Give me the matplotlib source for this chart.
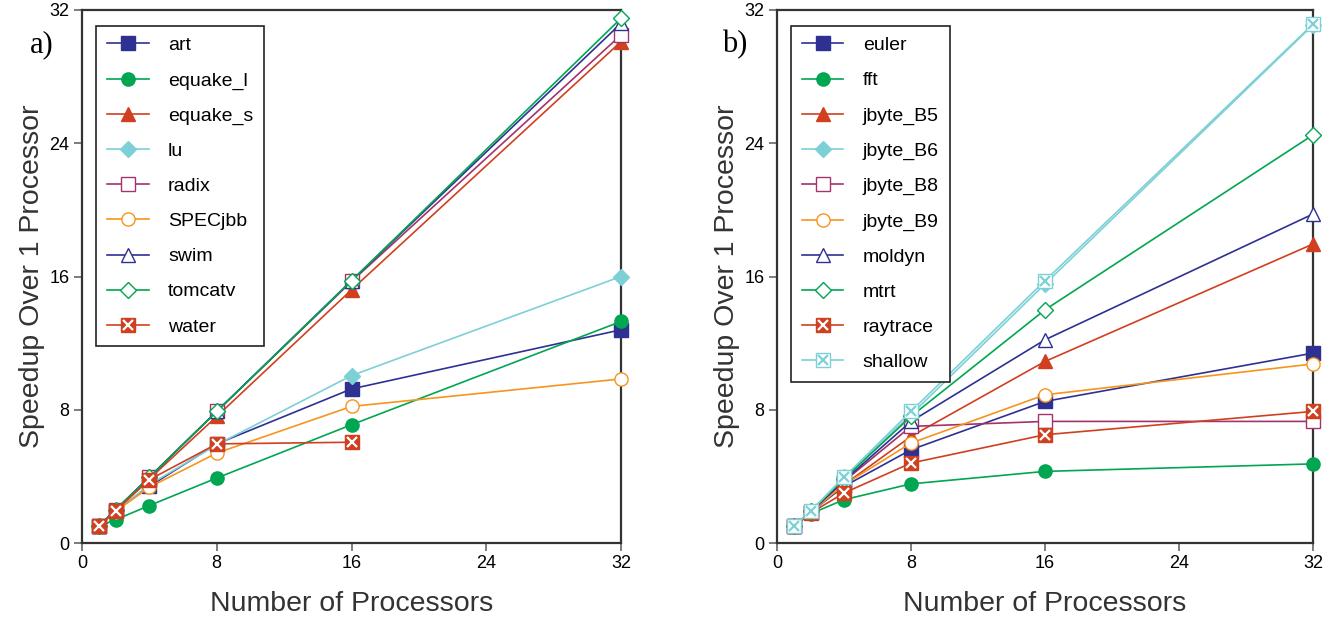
import matplotlib
matplotlib.use("Agg")
import matplotlib.pyplot as plt

plt.rcParams['font.family'] = ['Liberation Sans', 'DejaVu Sans']

procs = [1, 2, 4, 8, 16, 32]

# panel a)
art = [1, 1.95, 3.4, 5.95, 9.25, 12.8]
equake_l = [1, 1.4, 2.25, 3.9, 7.1, 13.3]
equake_s = [1, 1.95, 3.85, 7.6, 15.2, 30.1]
lu = [1, 1.9, 3.5, 5.9, 10.05, 16.0]
radix = [1, 2.0, 3.95, 7.9, 15.7, 30.5]
specjbb = [1, 1.9, 3.35, 5.4, 8.2, 9.85]
swim = [1, 2.0, 3.95, 7.9, 15.75, 31.2]
tomcatv = [1, 2.0, 3.95, 7.9, 15.75, 31.5]
water_procs = [1, 2, 4, 8, 16]
water = [1, 1.95, 3.8, 5.95, 6.05]

# panel b)
euler = [1, 1.85, 3.4, 5.6, 8.5, 11.4]
fft = [1, 1.75, 2.6, 3.55, 4.3, 4.75]
jbyte_b5 = [1, 1.85, 3.5, 6.4, 10.9, 17.95]
jbyte_b6 = [1, 1.9, 3.95, 7.7, 15.55, 31.1]
jbyte_b8 = [1, 1.85, 3.7, 7.0, 7.3, 7.3]
jbyte_b9 = [1, 1.85, 3.5, 6.0, 8.9, 10.75]
moldyn = [1, 1.85, 3.75, 7.3, 12.2, 19.75]
mtrt = [1, 1.9, 3.85, 7.6, 14.0, 24.5]
raytrace = [1, 1.8, 3.0, 4.8, 6.5, 7.9]
shallow = [1, 1.9, 3.95, 7.9, 15.75, 31.15]

ticks = [0, 8, 16, 24, 32]

NAVY = '#2e3192'
GREEN = '#00a651'
RED = '#d0401f'
CYAN = '#7dd0d6'
MAG = '#a3336b'
ORANGE = '#f7941d'

# (colour, marker, filled, cross overlay colour)
styles = [
    (NAVY, 's', True, None),
    (GREEN, 'o', True, None),
    (RED, '^', True, None),
    (CYAN, 'D', True, None),
    (MAG, 's', False, None),
    (ORANGE, 'o', False, None),
    (NAVY, '^', False, None),
    (GREEN, 'D', False, None),
    (RED, 's', True, 'white'),
    (CYAN, 's', False, CYAN),
]

fig = plt.figure(figsize=(13.4, 6.19), dpi=100)
axa = fig.add_axes([82/1340, 1 - 543/619, 539/1340, 533/619])
axb = fig.add_axes([777/1340, 1 - 543/619, 536/1340, 533/619])


def draw(ax, series, names):
    handles = []
    for (xs, ys), st in zip(series, styles):
        color, mk, filled, cross = st
        ms = 8.5 if mk == 'D' else 9.5
        if mk == '^':
            ms = 10
        ln, = ax.plot(xs, ys, color=color, lw=1.2, marker=mk, ms=ms,
                      mfc=color if filled else 'white', mec=color, mew=1.0,
                      clip_on=False, zorder=3)
        h = ln
        if cross is not None:
            cx, = ax.plot(xs, ys, ls='none', marker='x', ms=ms * 0.75,
                          mec=cross, mew=1.6, clip_on=False, zorder=3)
            h = (ln, cx)
        handles.append(h)

    ax.set_xlim(0, 32)
    ax.set_ylim(0, 32)
    ax.set_xticks(ticks)
    ax.set_yticks(ticks)
    ax.tick_params(direction='out', length=6, width=1.2, color='#666666',
                   labelsize=13, pad=3)
    for sp in ax.spines.values():
        sp.set_color('#333333')
        sp.set_linewidth(1.6)
    ax.set_xlabel('Number of Processors', fontsize=20.5, color='#333333', labelpad=13)
    ax.set_ylabel('Speedup Over 1 Processor', fontsize=20.5, color='#333333', labelpad=3)

    leg = ax.legend(handles, names, loc='upper left', bbox_to_anchor=(0.026, 0.97),
                    borderaxespad=0, fontsize=14, handlelength=2.15,
                    handletextpad=1.0, labelspacing=0.9, borderpad=0.55,
                    fancybox=False, framealpha=1, edgecolor='#222222')
    leg.get_frame().set_linewidth(1.2)


draw(axa,
     [(procs, art), (procs, equake_l), (procs, equake_s), (procs, lu),
      (procs, radix), (procs, specjbb), (procs, swim), (procs, tomcatv),
      (water_procs, water)],
     ['art', 'equake_l', 'equake_s', 'lu', 'radix', 'SPECjbb', 'swim',
      'tomcatv', 'water'])

draw(axb,
     [(procs, euler), (procs, fft), (procs, jbyte_b5), (procs, jbyte_b6),
      (procs, jbyte_b8), (procs, jbyte_b9), (procs, moldyn), (procs, mtrt),
      (procs, raytrace), (procs, shallow)],
     ['euler', 'fft', 'jbyte_B5', 'jbyte_B6', 'jbyte_B8', 'jbyte_B9',
      'moldyn', 'mtrt', 'raytrace', 'shallow'])

fig.text(30/1340, 1 - 45/619, 'a)', family='Liberation Serif', fontsize=22,
         va='center', ha='left')
fig.text(722/1340, 1 - 45/619, 'b)', family='Liberation Serif', fontsize=22,
         va='center', ha='left')

fig.savefig('out.png', dpi=100)
